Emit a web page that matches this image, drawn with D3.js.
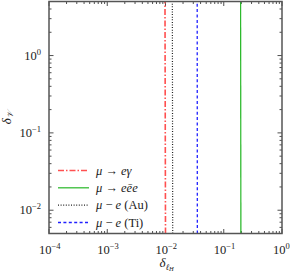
<!DOCTYPE html>
<html>
<head>
<meta charset="utf-8" />
<script src="https://d3js.org/d3.v7.min.js"></script>
<style>
  body { margin: 0; background: white; }
  text { font-family: "Liberation Serif", "Times New Roman", "DejaVu Serif", serif; }
</style>
</head>
<body>
<svg id="chart" width="290" height="274"></svg>
<script>
// series: x value of each vertical bound, sampled at bottom and top of y range
var yEnds = [0.005, 5];
var series = [
  { name: "μ → eγ", x: [0.01, 0.0098], color: "#ff5050", dash: "6,2,1.5,2", width: 1.6 },
  { name: "μ → eēe", x: [0.197, 0.195], color: "#10b010", dash: null, width: 1.1 },
  { name: "μ − e (Au)", x: [0.0133, 0.0131], color: "#222", dash: "1,1.6", width: 1.2 },
  { name: "μ − e (Ti)", x: [0.0352, 0.035], color: "#2020ff", dash: "3,2.4", width: 1.3 }
];
// legend pieces: [text, italic?]
var legendLabels = [
  [["μ", 1], [" → ", 0], ["eγ", 1]],
  [["μ", 1], [" → ", 0], ["eēe", 1]],
  [["μ", 1], [" − ", 0], ["e", 1], [" (Au)", 0]],
  [["μ", 1], [" − ", 0], ["e", 1], [" (Ti)", 0]]
];
var xTicks = [1e-4, 1e-3, 1e-2, 1e-1, 1];
var xExp = ["−4", "−3", "−2", "−1", "0"];
var yTicks = [1e-2, 1e-1, 1];
var yExp = ["−2", "−1", "0"];

var svg = d3.select("#chart");
var m = { l: 49, r: 8, t: 1.5, b: 40.5 };
var W = 290, H = 274;
var x = d3.scaleLog().domain([1e-4, 1]).range([m.l, W - m.r]);
var y = d3.scaleLog().domain([0.005, 5]).range([H - m.b, m.t]);

// minor ticks
function minors(dom) {
  var out = [];
  var lo = Math.floor(Math.log10(dom[0])), hi = Math.ceil(Math.log10(dom[1]));
  for (var e = lo; e < hi; e++) {
    for (var k = 2; k <= 9; k++) {
      var v = k * Math.pow(10, e);
      if (v > dom[0] && v < dom[1]) out.push(v);
    }
  }
  return out;
}
var xMin = minors(x.domain()), yMin = minors(y.domain());
var tg = svg.append("g").attr("stroke", "#222").attr("stroke-width", 0.8);
var x0 = m.l, x1 = W - m.r, y0 = H - m.b, y1 = m.t;
xTicks.forEach(function(v) {
  tg.append("line").attr("x1", x(v)).attr("x2", x(v)).attr("y1", y0).attr("y2", y0 - 4.5);
  tg.append("line").attr("x1", x(v)).attr("x2", x(v)).attr("y1", y1).attr("y2", y1 + 4.5);
});
xMin.forEach(function(v) {
  tg.append("line").attr("x1", x(v)).attr("x2", x(v)).attr("y1", y0).attr("y2", y0 - 2.5);
  tg.append("line").attr("x1", x(v)).attr("x2", x(v)).attr("y1", y1).attr("y2", y1 + 2.5);
});
yTicks.forEach(function(v) {
  tg.append("line").attr("y1", y(v)).attr("y2", y(v)).attr("x1", x0).attr("x2", x0 + 4.5);
  tg.append("line").attr("y1", y(v)).attr("y2", y(v)).attr("x1", x1).attr("x2", x1 - 4.5);
});
yMin.forEach(function(v) {
  tg.append("line").attr("y1", y(v)).attr("y2", y(v)).attr("x1", x0).attr("x2", x0 + 2.5);
  tg.append("line").attr("y1", y(v)).attr("y2", y(v)).attr("x1", x1).attr("x2", x1 - 2.5);
});

// lines
var line = d3.line().x(function(d) { return x(d[0]); }).y(function(d) { return y(d[1]); });
series.forEach(function(s) {
  var pts = s.x.map(function(v, i) { return [v, yEnds[i]]; });
  svg.append("path").attr("d", line(pts)).attr("fill", "none")
    .attr("stroke", s.color).attr("stroke-width", s.width)
    .attr("stroke-dasharray", s.dash);
});

// frame
svg.append("rect").attr("x", x0).attr("y", y1).attr("width", x1 - x0).attr("height", y0 - y1)
  .attr("fill", "none").attr("stroke", "#555").attr("stroke-width", 1.5);

// tick labels
function powLabel(g, v, exp) {
  var t = g.append("text").attr("font-size", 12.5).attr("fill", "#222");
  t.append("tspan").text("10");
  t.append("tspan").attr("font-size", 8.5).attr("dy", -5).text(exp);
  return t;
}
xTicks.forEach(function(v, i) {
  powLabel(svg, v, xExp[i]).attr("x", x(v) - (i === 4 ? 9 : 10)).attr("y", y0 + 20);
});
yTicks.forEach(function(v, i) {
  powLabel(svg, v, yExp[i]).attr("text-anchor", "end").attr("x", x0 - 8).attr("y", y(v) + 4);
});

// axis titles
var xt = svg.append("text").attr("x", x(0.01) - 6).attr("y", H - 7).attr("font-size", 13).attr("font-style", "italic").attr("fill", "#222");
xt.append("tspan").text("δ");
xt.append("tspan").attr("font-size", 8.5).attr("dy", 2.5).text("ℓ");
xt.append("tspan").attr("font-size", 6.5).attr("dy", 1.5).text("H");
var yt = svg.append("text").attr("transform", "translate(11," + (y(0.15) + 5) + ") rotate(-90)")
  .attr("font-size", 13).attr("font-style", "italic").attr("fill", "#222");
yt.append("tspan").text("δ");
yt.append("tspan").attr("font-size", 8.5).attr("dy", 2).text("𝒱");

// legend
var lg = svg.append("g");
var ly = d3.scaleLinear().domain([0, 3]).range([170.5, 222.5]);
series.forEach(function(s, i) {
  lg.append("line").attr("x1", 58).attr("x2", 89).attr("y1", ly(i)).attr("y2", ly(i))
    .attr("stroke", s.color).attr("stroke-width", s.width).attr("stroke-dasharray", s.dash);
  var t = lg.append("text").attr("x", 96).attr("y", ly(i) + 4).attr("font-size", 12.5)
    .attr("fill", "#222");
  legendLabels[i].forEach(function(p) {
    t.append("tspan").attr("font-style", p[1] ? "italic" : "normal").text(p[0]);
  });
});
</script>
</body>
</html>
